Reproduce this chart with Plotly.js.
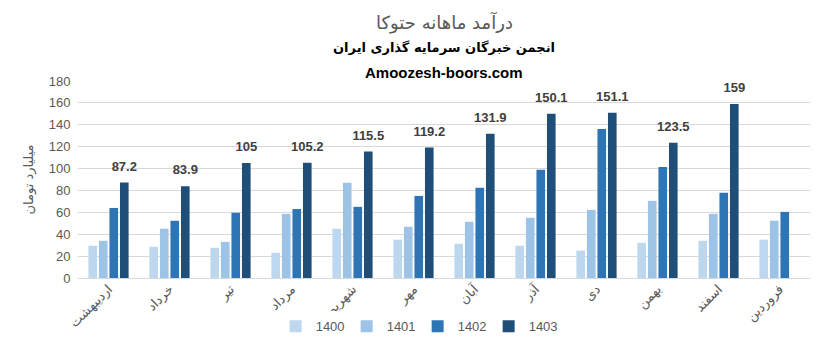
<!DOCTYPE html>
<html><head><meta charset="utf-8">
<script src="https://cdn.plot.ly/plotly-3.0.1.min.js"></script>
<style>body{margin:0;background:#fff}#c{width:823px;height:347px}</style>
</head><body><div id="c"></div>
<script>
const months = ["اردیبهشت","خرداد","تیر","مرداد","شهریور","مهر","آبان","آذر","دی","بهمن","اسفند","فروردین"];
const s1400 = [29.5,28.5,27.6,23,45,35,31.3,29.5,25,32.2,34,35];
const s1401 = [34,45,33,58.6,87,46.8,51.4,55,62.3,70.5,58.6,52.3];
const s1402 = [64,52.3,59.6,63,65,75,82.4,98.8,136.2,101.5,77.8,60.4];
const s1403 = [87.2,83.9,105,105.2,115.5,119.2,131.9,150.1,151.1,123.5,159,null];
const seriesNames = ["1400","1401","1402","1403"];
const colors = ["#BDD7EE","#9DC3E6","#2E75B6","#1F4E79"];
const data = [s1400,s1401,s1402,s1403].map((v,i)=>({
  type:"bar", x:months, y:v, name:seriesNames[i], marker:{color:colors[i]},
  text: i===3 ? v.map(d=>d==null?"":"<span style='font-size:13px;font-weight:bold'>"+d+"</span><br> ") : undefined,
  textposition: i===3 ? "outside" : "none",
  constraintext:"none",
  textfont:{family:"Liberation Sans, Arial",size:6,color:"#404040"},
  cliponaxis:false, hoverinfo:"none"
}));
const layout = {
  width:823,height:347,
  margin:{l:78,r:13,t:81,b:69},
  paper_bgcolor:"#fff",plot_bgcolor:"#fff",
  barmode:"group",bargap:0.31,bargroupgap:0.18,
  font:{family:"DejaVu Sans, Liberation Sans, Arial",color:"#595959"},
  xaxis:{tickangle:-45,automargin:false,tickfont:{size:13,color:"#595959"},showline:false,ticks:"",zeroline:false},
  yaxis:{range:[0,180],dtick:20,automargin:false,gridcolor:"#D9D9D9",zeroline:true,zerolinecolor:"#D9D9D9",
    tickfont:{family:"Liberation Sans, Arial",size:13,color:"#595959"},ticklen:4,ticks:"outside",tickcolor:"rgba(0,0,0,0)",
    title:{text:"میلیارد تومان",font:{size:13,color:"#595959"},standoff:12}},
  showlegend:true,
  legend:{orientation:"h",x:0.464,xanchor:"center",yref:"container",y:0.06,yanchor:"middle",font:{family:"Liberation Sans, Arial",size:13,color:"#595959"},itemwidth:30,entrywidth:26,traceorder:"normal"},
  annotations:[
    {text:"درآمد ماهانه حتوکا",xref:"paper",yref:"paper",x:0.5,y:1.0,xanchor:"center",yanchor:"middle",yshift:59,showarrow:false,font:{size:18,color:"#595959"}},
    {text:"<b>انجمن خبرگان سرمایه گذاری ایران</b>",xref:"paper",yref:"paper",x:0.5,y:1.0,xanchor:"center",yanchor:"middle",yshift:34,showarrow:false,font:{size:13,color:"#000"}},
    {text:"<b>Amoozesh-boors.com</b>",xref:"paper",yref:"paper",x:0.5,y:1.0,xanchor:"center",yanchor:"middle",yshift:9,showarrow:false,font:{family:"Liberation Sans, Arial",size:15,color:"#000"}}
  ]
};
Plotly.newPlot("c",data,layout,{displayModeBar:false,staticPlot:true});
</script></body></html>
